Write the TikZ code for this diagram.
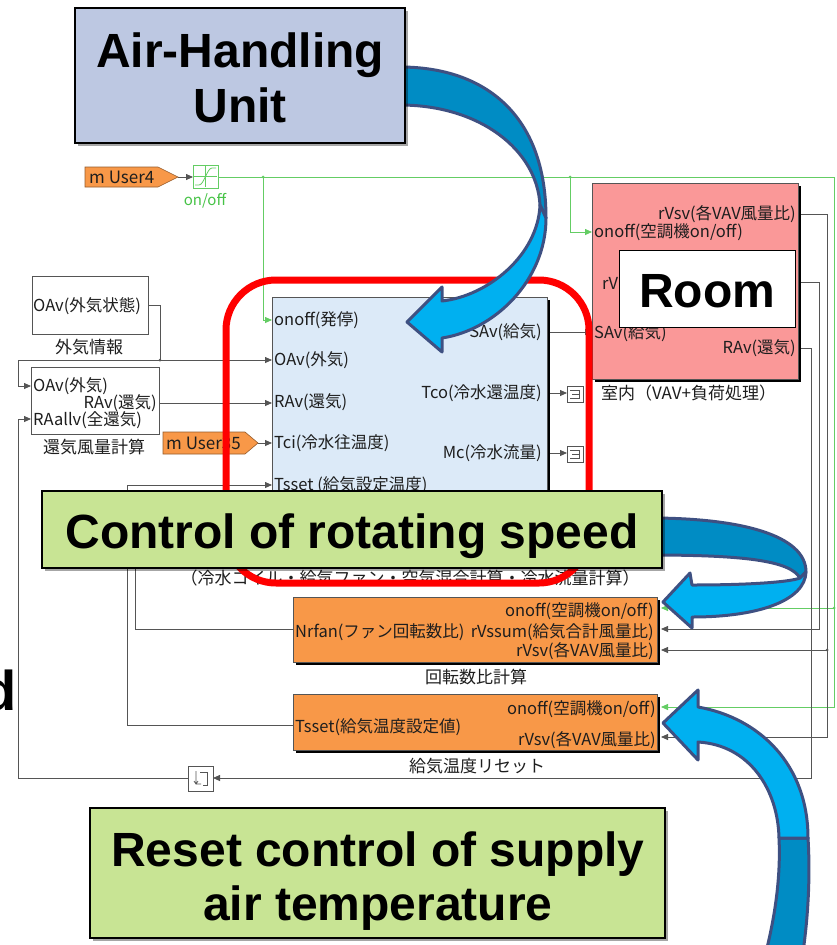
\documentclass[tikz,border=0pt]{standalone}
\usepackage{fontspec}
\setmainfont{Liberation Sans}
\newfontfamily\jp{Noto Sans CJK JP}
\usetikzlibrary{arrows.meta,shadows,calc}
\definecolor{ahublue}{RGB}{189,200,226}
\definecolor{blockblue}{RGB}{220,234,248}
\definecolor{roompink}{RGB}{250,152,152}
\definecolor{orangeblk}{RGB}{248,152,72}
\definecolor{lblgreen}{RGB}{200,228,148}
\definecolor{lgreen}{RGB}{100,205,100}
\definecolor{txtgreen}{RGB}{70,195,70}
\definecolor{linegray}{RGB}{85,85,85}
\definecolor{txtgray}{RGB}{30,30,30}
\definecolor{arrowlight}{RGB}{0,176,240}
\definecolor{arrowdark}{RGB}{0,140,196}
\definecolor{arrowedge}{RGB}{62,80,130}
\definecolor{redline}{RGB}{255,0,0}
\begin{document}
\begin{tikzpicture}[x=1pt,y=-1pt,
  conn/.style={draw=linegray, line width=0.8pt},
  arr/.style={conn, -{Triangle[length=7pt,width=6pt]}},
  gline/.style={draw=lgreen, line width=0.8pt},
  garr/.style={gline, -{Triangle[length=7pt,width=6pt]}},
  jdot/.style={fill=linegray, circle, inner sep=0pt, minimum size=3pt},
  gdot/.style={fill=lgreen, circle, inner sep=0pt, minimum size=3pt},
  jtext/.style={font=\jp\fontsize{16.5}{19}\selectfont, text=txtgray, inner sep=0pt},
  captext/.style={font=\jp\fontsize{17}{20}\selectfont, text=txtgray, inner sep=0pt},
  bigtext/.style={font=\fontsize{48}{55}\selectfont\bfseries, text=black, inner sep=0pt},
  blk/.style={draw=linegray, line width=0.8pt, inner sep=0pt, outer sep=0pt, anchor=north west},
  hardshadow/.style={general shadow={fill=black, shadow xshift=3pt, shadow yshift=-3pt}},
  softshadow/.style={drop shadow={shadow xshift=3pt, shadow yshift=-3pt, opacity=0.35, fill=black}},
  lblbox/.style={draw=black, line width=1.2pt, inner sep=0pt, outer sep=0pt, anchor=north west},
  ribbon/.style={draw=arrowedge, line width=3pt, line join=round},
  tag/.style={fill=orangeblk, draw=orangeblk!60!black, line width=0.6pt},
  termsym/.style={draw=linegray, line width=0.7pt}
]
\useasboundingbox (0,0) rectangle (837,945);
\fill[white] (0,0) rectangle (837,945);

% ---------- port coordinates ----------
\coordinate (sat-out) at (218,177);
\coordinate (jA) at (263,177);
\coordinate (jB) at (570,177);
\coordinate (gR) at (834,177);
\coordinate (ahu-on) at (272,320);
\coordinate (ahu-oa) at (272,360);
\coordinate (ahu-ra) at (272,403);
\coordinate (ahu-tci) at (272,443);
\coordinate (ahu-ts) at (272,485);
\coordinate (ahu-nr) at (272,530);
\coordinate (ahu-sa) at (548,332);
\coordinate (ahu-tco) at (548,393);
\coordinate (ahu-mc) at (548,453);
\coordinate (room-on) at (592,232);
\coordinate (room-sa) at (592,332);
\coordinate (room-rvsv) at (798,214);
\coordinate (room-rv) at (798,282);
\coordinate (room-rav) at (798,348);
\coordinate (rc-on) at (661,608);
\coordinate (rc-rvssum) at (661,629);
\coordinate (rc-rvsv) at (661,650);
\coordinate (rc-nr) at (293,629);
\coordinate (ts-on) at (661,707);
\coordinate (ts-rvsv) at (661,737);
\coordinate (ts-out) at (293,725);
\coordinate (mem-in) at (213,778);
\coordinate (mem-out) at (188,778);
\coordinate (oa-out) at (148,305);
\coordinate (jOA) at (160,360);
\coordinate (rq-oa) at (31,386);
\coordinate (rq-ra) at (159,403);
\coordinate (rq-all) at (31,419);
\coordinate (u4-tip) at (178,177);
\coordinate (sat-in) at (193,177);
\coordinate (u35-tip) at (258,443);
\coordinate (t1-in) at (567,393);
\coordinate (t2-in) at (567,453);

% ---------- green on/off lines ----------
\draw[gline] (sat-out) -- (gR);
\draw[garr] (gR) |- (ts-on);
\draw[garr] (gR |- rc-on) -- (rc-on);
\draw[garr] (jA) |- (ahu-on);
\draw[garr] (jB) |- (room-on);
\node[gdot] (d1) at (jA) {};
\node[gdot] (d2) at (jB) {};
\node[gdot] (d3) at (gR |- rc-on) {};

% ---------- signal lines ----------
\draw[arr] (room-rvsv) -- ++(29,0) |- (ts-rvsv);
\draw[arr] (827,650) -- (rc-rvsv);
\node[jdot] (d4) at (827,650) {};
\draw[arr] (room-rv) -- ++(21,0) |- (rc-rvssum);
\draw[arr] (room-rav) -- ++(13,0) |- (mem-in);
\draw[arr] (mem-out) -- (18,778) |- (rq-all);
\draw[conn] (oa-out) -| (jOA);
\draw[arr] (jOA) -- (ahu-oa);
\draw[arr] (jOA) -- (18,360) |- (rq-oa);
\node[jdot] (d5) at (jOA) {};
\draw[arr] (rq-ra) -- (ahu-ra);
\draw[arr] (u35-tip) -- (ahu-tci);
\draw[arr] (ts-out) -- (127,725) |- (ahu-ts);
\draw[arr] (rc-nr) -- (135,629) |- (ahu-nr);
\draw[arr] (ahu-sa) -- (room-sa);
\draw[arr] (ahu-tco) -- (t1-in);
\draw[arr] (ahu-mc) -- (t2-in);
\draw[arr] (u4-tip) -- (sat-in);

% ---------- blocks ----------
\node[blk, fill=blockblue, hardshadow, minimum width=275pt, minimum height=268pt] (ahu) at (272,297) {};
\node[blk, fill=roompink, hardshadow, minimum width=206pt, minimum height=196pt] (room) at (592,183) {};
\node[blk, fill=white, minimum width=116pt, minimum height=58pt] (oainfo) at (32,276) {};
\node[blk, fill=white, minimum width=128pt, minimum height=67pt] (raq) at (31,367) {};
\node[blk, fill=orangeblk, hardshadow, minimum width=364pt, minimum height=65pt] (rc) at (293,597) {};
\node[blk, fill=orangeblk, hardshadow, minimum width=364pt, minimum height=56pt] (ts) at (293,694) {};
\node[blk, fill=white, minimum width=25pt, minimum height=25pt] (mem) at (188,766) {};
\node[blk, fill=white, minimum width=16pt, minimum height=16pt] (term1) at (567,386) {};
\node[blk, fill=white, minimum width=16pt, minimum height=16pt] (term2) at (567,446) {};
\node[blk, draw=lgreen, fill=white, minimum width=25pt, minimum height=23pt] (sat) at (193,165) {};

% block symbols
\draw[termsym] (570,390) -- (579,390) -- (579,398) -- (570,398) (572,394) -- (579,394);
\draw[termsym] (570,450) -- (579,450) -- (579,458) -- (570,458) (572,454) -- (579,454);
\draw[termsym] (196,771) -- (196,784) -- (201,784) (194,781) -- (196,784) -- (198,781);
\draw[termsym] (200,772) -- (207,772) -- (207,785) -- (203,785);
\draw[draw=lgreen, line width=0.6pt] (205.5,166) -- (205.5,187) (194,176.5) -- (217,176.5);
\draw[draw=lgreen, line width=0.8pt] (195,185) -- (199,185) .. controls (204,185) and (207,168) .. (212,168) -- (216,168);

% tags
\filldraw[tag] (85,167) -- (158,167) -- (178,177) -- (158,187) -- (85,187) -- cycle;
\node[jtext, anchor=west, font=\jp\fontsize{17}{19}\selectfont] (u4) at (89,177) {m User4};
\filldraw[tag] (163,432) -- (245,432) -- (258,443) -- (245,454) -- (163,454) -- cycle;
\node[jtext, anchor=west, font=\jp\fontsize{17}{19}\selectfont] (u35) at (166,443) {m User35};
\node[jtext, text=txtgreen, font=\jp\fontsize{15}{18}\selectfont] (onofflbl) at (205,201) {on/off};

% ---------- block texts ----------
\node[jtext, anchor=west] (t-oa1) at (33,306) {OAv(外気状態)};
\node[captext] (c-oa) at (89,347) {外気情報};
\node[jtext, anchor=west] (t-rq1) at (33,386) {OAv(外気)};
\node[jtext, anchor=east] (t-rq2) at (157,403) {RAv(還気)};
\node[jtext, anchor=west] (t-rq3) at (33,420) {RAallv(全還気)};
\node[captext] (c-rq) at (94,447) {還気風量計算};

\node[jtext, anchor=west] (t-a1) at (274,320) {onoff(発停)};
\node[jtext, anchor=west] (t-a2) at (274,360) {OAv(外気)};
\node[jtext, anchor=west] (t-a3) at (274,402) {RAv(還気)};
\node[jtext, anchor=west] (t-a4) at (274,443) {Tci(冷水往温度)};
\node[jtext, anchor=west] (t-a5) at (274,485) {Tsset (給気設定温度)};
\node[jtext, anchor=east] (t-a6) at (542,332) {SAv(給気)};
\node[jtext, anchor=east] (t-a7) at (542,393) {Tco(冷水還温度)};
\node[jtext, anchor=east] (t-a8) at (542,453) {Mc(冷水流量)};
\node[captext] (c-ahu) at (410,578) {（冷水コイル・給気ファン・空気混合計算・冷水流量計算）};

\node[jtext, anchor=east] (t-r1) at (796,214) {rVsv(各VAV風量比)};
\node[jtext, anchor=west] (t-r2) at (594,232) {onoff(空調機on/off)};
\node[jtext, anchor=west] (t-r3) at (602,283) {rV};
\node[jtext, anchor=west] (t-r4) at (594,333) {SAv(給気)};
\node[jtext, anchor=east] (t-r5) at (796,348) {RAv(還気)};
\node[captext, anchor=west] (c-room) at (601,393) {室内（VAV+負荷処理）};

\node[jtext, anchor=east] (t-o1) at (654,611) {onoff(空調機on/off)};
\node[jtext, anchor=west] (t-o2) at (295,632) {Nrfan(ファン回転数比)};
\node[jtext, anchor=east] (t-o3) at (654,632) {rVssum(給気合計風量比)};
\node[jtext, anchor=east] (t-o4) at (654,651) {rVsv(各VAV風量比)};
\node[captext] (c-rc) at (476,677) {回転数比計算};
\node[jtext, anchor=east] (t-p1) at (656,709) {onoff(空調機on/off)};
\node[jtext, anchor=west] (t-p2) at (295,727) {Tsset(給気温度設定値)};
\node[jtext, anchor=east] (t-p3) at (656,740) {rVsv(各VAV風量比)};
\node[captext] (c-ts) at (477,766) {給気温度リセット};

% ---------- red highlight ----------
\draw[redline, line width=7pt, rounded corners=50pt] (226,280) rectangle (589,583);

% ---------- Room label ----------
\node[lblbox, fill=white, line width=1pt, minimum width=176pt, minimum height=77pt] (roombox) at (619,250) {};
\node[bigtext, anchor=base] (roomtxt) at (707,307) {Room};

% ---------- fragment of a word cut by the left edge ----------
\begin{scope}
\clip (0,0) rectangle (837,945);
\node[bigtext, anchor=base west, font=\fontsize{56}{60}\selectfont\bfseries] (frag) at (-18,710) {d};
\end{scope}

% ---------- blue arrows ----------
% arrow 1 (AHU label -> AHU block)
\filldraw[ribbon, fill=arrowdark] (400,67) .. controls (485,67) and (546,115) .. (546,218) -- (540,205) .. controls (537,150) and (480,105) .. (400,105) -- cycle;
\filldraw[ribbon, fill=arrowlight] (546,218) .. controls (546,280) and (495,330) .. (442,338) -- (442,352) -- (407,322) -- (442,287) -- (442,301) .. controls (488,296) and (538,255) .. (540,205) -- cycle;
% arrow 2 (rotating speed -> block)
\filldraw[ribbon, fill=arrowdark] (650,518) .. controls (740,518) and (806,535) .. (806,572) -- (800,578) .. controls (790,560) and (740,555) .. (650,555) -- cycle;
\filldraw[ribbon, fill=arrowlight] (806,572) .. controls (805,600) and (760,617) .. (692,617) -- (692,628) -- (663,602) -- (690,573) -- (692,585) .. controls (750,585) and (790,582) .. (800,578) -- cycle;
% arrow 3 (reset control -> block)
\filldraw[ribbon, fill=arrowdark] (779,838) .. controls (781,880) and (774,920) .. (766,952) -- (803,952) .. controls (809,910) and (810,870) .. (808,838) -- cycle;
\filldraw[ribbon, fill=arrowlight] (698,707) .. controls (760,718) and (808,765) .. (808,838) -- (779,838) .. controls (778,790) and (750,745) .. (698,742) -- (698,760) -- (663,723) -- (698,690) -- cycle;

% ---------- label boxes ----------
\node[lblbox, fill=ahublue, softshadow, minimum width=330pt, minimum height=135pt] (ahubox) at (75,8) {};
\node[bigtext, anchor=base] (ahut1) at (240,67) {Air-Handling};
\node[bigtext, anchor=base] (ahut2) at (240,122) {Unit};

\node[lblbox, fill=lblgreen, softshadow, minimum width=620pt, minimum height=77pt] (rotbox) at (42,491) {};
\node[bigtext, anchor=base] (rottxt) at (352,548) {Control of rotating speed};

\node[lblbox, fill=lblgreen, softshadow, minimum width=575pt, minimum height=130pt] (resetbox) at (90,808) {};
\node[bigtext, anchor=base] (rst1) at (378,866) {Reset control of supply};
\node[bigtext, anchor=base] (rst2) at (378,920) {air temperature};
\end{tikzpicture}
\end{document}
